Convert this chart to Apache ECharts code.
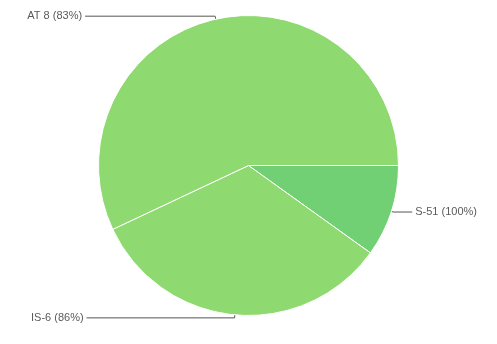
<!DOCTYPE html>
<html>
<head>
<meta charset="utf-8">
<script src="https://cdn.jsdelivr.net/npm/echarts@6/dist/echarts.min.js"></script>
<style>html,body{margin:0;padding:0;background:#fff;}#c{width:497px;height:344px;}</style>
</head>
<body>
<div id="c"></div>
<script>
const categories = ['S-51 (100%)', 'IS-6 (86%)', 'AT 8 (83%)'];
const values = [9.9, 33.1, 57.0];
const colors = ['#71cf74', '#8ed970', '#8ed970'];
const lineLen = [2, 3, 3];
const lineLen2 = [19, 148, 130];

const chart = echarts.init(document.getElementById('c'));
chart.setOption({
  animation: false,
  series: [{
    type: 'pie',
    center: [248.5, 165.5],
    radius: 150,
    startAngle: 0,
    clockwise: true,
    avoidLabelOverlap: false,
    itemStyle: { borderColor: '#fff', borderWidth: 1 },
    label: {
      fontFamily: 'Liberation Sans, Arial, sans-serif',
      fontSize: 11,
      color: '#5a5a5a',
      distanceToLabelLine: 3
    },
    labelLine: { lineStyle: { color: '#555', width: 1 } },
    emphasis: { disabled: true },
    data: categories.map((n, i) => ({
      name: n,
      value: values[i],
      itemStyle: { color: colors[i] },
      labelLine: { length: lineLen[i], length2: lineLen2[i] }
    }))
  }]
});
</script>
</body>
</html>
